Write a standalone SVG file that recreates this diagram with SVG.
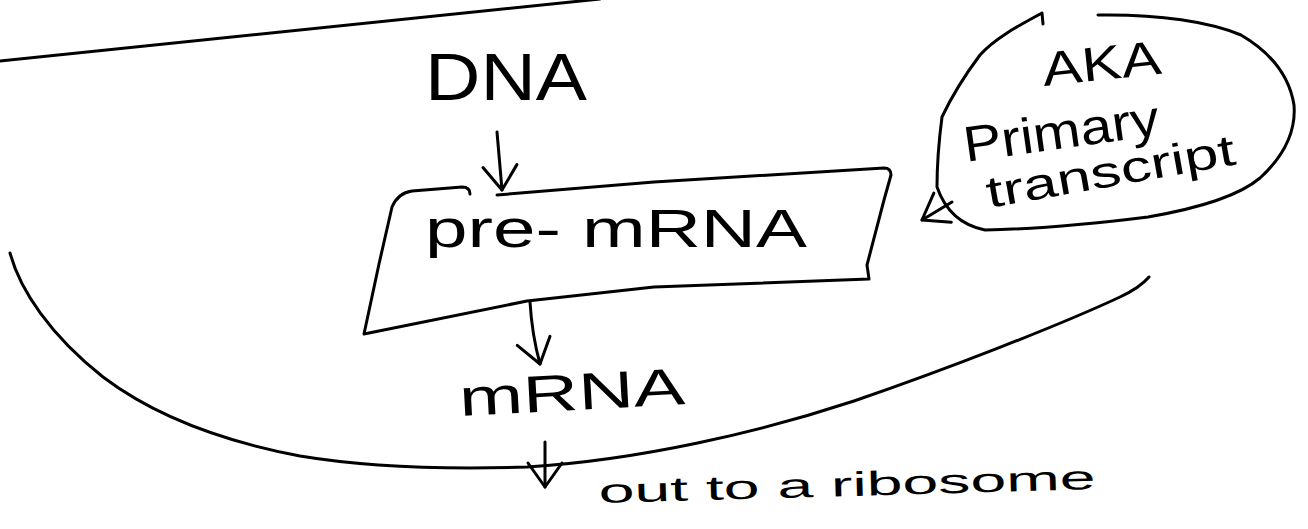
<svg xmlns="http://www.w3.org/2000/svg" width="1308" height="529" viewBox="0 0 1308 529">
  <style>
    .ink { fill: none; stroke: #000; stroke-width: 3; stroke-linecap: round; stroke-linejoin: round; }
    .lbl { font-family: "Liberation Sans", Arial, sans-serif; fill: #000; }
  </style>
  <defs>
    <marker id="head" markerUnits="userSpaceOnUse" markerWidth="50" markerHeight="50" refX="0" refY="0" orient="auto" overflow="visible">
      <path d="M-24,-17 L0,0 L-24,17" fill="none" stroke="#000" stroke-width="3" stroke-linecap="round" stroke-linejoin="round"/>
    </marker>
  </defs>
  <rect width="1308" height="529" fill="#fff"/>

  <!-- nuclear envelope boundary -->
  <g id="nucleus">
    <path class="ink" d="M0,61 L600,-1"/>
    <path class="ink" d="M10,253 C20,290 50,335 103,377 C140,405 200,437 300,456 C360,466 430,470 527,467 C640,460 760,432 854,401 C950,368 1060,325 1120,297 C1135,290 1143,284 1149,277"/>
  </g>

  <g id="node-dna">
    <text class="lbl" x="425" y="100" font-size="66" textLength="162" lengthAdjust="spacingAndGlyphs">DNA</text>
  </g>

  <g id="node-premrna">
    <path class="ink" d="M497,195 L654,182 L884,168 Q891,168 891,175 L884,200 L867,265 L869,279 L654,287 L527,301 L364,334 L379,264 L392,207 Q398,193 412,191 L462,187 Q470,187 470,194"/>
    <text class="lbl" x="425" y="247" font-size="54" textLength="382" lengthAdjust="spacingAndGlyphs">pre- mRNA</text>
  </g>

  <g id="node-mrna">
    <text class="lbl" x="460" y="416" font-size="52" textLength="226" lengthAdjust="spacingAndGlyphs" transform="rotate(-3 460 416)">mRNA</text>
  </g>

  <g id="node-ribosome">
    <text class="lbl" x="599" y="503" font-size="34" textLength="497" lengthAdjust="spacingAndGlyphs" transform="rotate(-1.6 599 503)">out to a ribosome</text>
  </g>

  <g id="node-aka">
    <path class="ink" d="M1043,24 L1042,13 C1020,25 995,38 980,55 C965,75 950,100 942,117 C939,140 937,165 937,187 C945,210 960,225 985,230 C1040,229 1100,223 1148,217 C1200,208 1240,195 1260,178 C1285,155 1296,130 1294,105 C1290,80 1275,55 1241,35 C1210,22 1160,14 1098,15"/>
    <text class="lbl" x="1044" y="86" font-size="48" textLength="119" lengthAdjust="spacingAndGlyphs" transform="rotate(-6 1044 86)">AKA</text>
    <text class="lbl" x="966" y="162" font-size="50" textLength="197" lengthAdjust="spacingAndGlyphs" transform="rotate(-8 966 162)">Primary</text>
    <text class="lbl" x="989" y="208" font-size="44" textLength="252" lengthAdjust="spacingAndGlyphs" transform="rotate(-10 989 208)">transcript</text>
  </g>

  <g id="connectors">
    <path class="ink" d="M497,132 L502,190" marker-end="url(#head)"/>
    <path class="ink" d="M530,302 Q532,335 540,364" marker-end="url(#head)"/>
    <path class="ink" d="M545,442 L545,487" marker-end="url(#head)"/>
    <path class="ink" d="M952,202 L922,220" marker-end="url(#head)"/>
  </g>
</svg>
